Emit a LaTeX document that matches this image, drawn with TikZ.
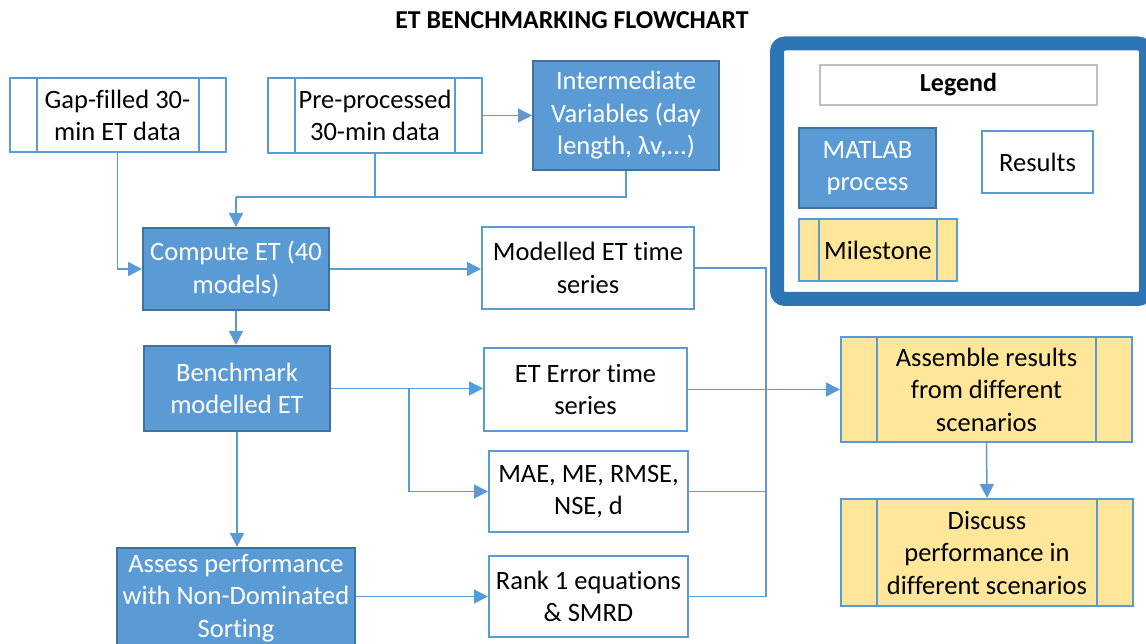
\documentclass[tikz,border=0pt]{standalone}
\usepackage{fontspec}
\setmainfont[Ligatures=NoCommon]{Carlito}
\usetikzlibrary{arrows.meta}
\definecolor{procblue}{HTML}{5B9BD5}
\definecolor{procedge}{HTML}{41719C}
\definecolor{framebl}{HTML}{2E75B6}
\definecolor{mileyel}{HTML}{FFE699}
\definecolor{legray}{HTML}{BFBFBF}
\tikzset{
  txt/.style={font=\fontsize{26.5}{32.5}\selectfont, align=center, inner sep=0pt},
  proc/.style={txt, draw=procedge, fill=procblue, text=white, line width=2pt},
  result/.style={txt, draw=procblue, fill=white, text=black, line width=2pt},
  sidebars/.style={path picture={
      \draw[procblue, line width=2pt]
        ([xshift=#1]path picture bounding box.north west) --
        ([xshift=#1]path picture bounding box.south west);
      \draw[procblue, line width=2pt]
        ([xshift=-#1]path picture bounding box.north east) --
        ([xshift=-#1]path picture bounding box.south east);}},
  datain/.style={result, sidebars=#1},
  milestone/.style={result, fill=mileyel, sidebars=#1},
  link/.style={draw=procblue, line width=1.5pt},
  arr/.style={link, -{Triangle[length=14pt, width=14pt]}},
}
\begin{document}
\begin{tikzpicture}[x=1pt, y=-1pt]
\useasboundingbox (0,0) rectangle (1146,644);

% heading
\node[font=\fontsize{25.8}{30}\selectfont\bfseries, anchor=base] (title) at (572,29) {ET BENCHMARKING FLOWCHART};

% legend panel
\draw[framebl, line width=14pt, rounded corners=8pt] (777,43.5) rectangle (1146,299);
\node[txt, draw=legray, line width=2pt, minimum width=277, minimum height=40,
      font=\fontsize{26}{30}\selectfont\bfseries] (legtitle) at (958.5,85) {Legend};
\node[proc, minimum width=137, minimum height=80] (legproc) at (867.5,168) {MATLAB\\process};
\node[result, minimum width=111, minimum height=62] (legres) at (1037.5,162) {Results};
\node[milestone=20, minimum width=158, minimum height=62] (legmile) at (878,250) {Milestone};

% inputs
\node[datain=27, minimum width=216, minimum height=74] (gap) at (117.5,115.5) {Gap-filled 30-\\min ET data};
\node[datain=27, minimum width=214, minimum height=75] (pre) at (375,115.5) {Pre-processed\\30-min data};
\node[proc, minimum width=186, minimum height=109] (inter) at (626,115.5) {Intermediate\\Variables (day\\length, λv,...)};

% processing chain
\node[proc, minimum width=186, minimum height=82] (compute) at (236,269) {Compute ET (40\\models)};
\node[proc, minimum width=186, minimum height=85] (bench) at (237,388.5) {Benchmark\\modelled ET};
\node[proc, minimum width=238, minimum height=100] (assess) at (236,598) {Assess performance\\with Non-Dominated\\Sorting};

% results
\node[result, minimum width=212, minimum height=82] (modelled) at (588,268) {Modelled ET time\\series};
\node[result, minimum width=203, minimum height=83] (error) at (585.5,389.5) {ET Error time\\series};
\node[result, minimum width=199, minimum height=81] (mae) at (588.5,491.5) {MAE, ME, RMSE,\\NSE, d};
\node[result, minimum width=199, minimum height=81] (rank) at (588.5,596.5) {Rank 1 equations\\\& SMRD};

% milestones
\node[milestone=36, minimum width=291, minimum height=105] (assemble) at (986.5,389.5) {Assemble results\\from different\\scenarios};
\node[milestone=36, minimum width=292, minimum height=107] (discuss) at (987,552.5) {Discuss\\performance in\\different scenarios};

% junction points
\coordinate (j1) at (236,197);
\coordinate (b1) at (409,389);
\coordinate (m1) at (766,390);

% connectors
\draw[arr] (gap.south) |- (compute.west);
\draw[link] (pre.south) |- (j1);
\draw[link] (inter.south) |- (j1);
\draw[arr] (j1) -- (compute.north);
\draw[arr] (pre.east) -- (inter.west);
\draw[arr] (compute.east) -- (modelled.west |- compute.east);
\draw[arr] (compute.south) -- (bench.north -| compute.south);
\draw[arr] (bench.east) -- (error.west |- bench.east);
\draw[arr] (b1) |- (mae.west);
\draw[arr] (bench.south) -- (bench.south |- assess.north);
\draw[arr] (assess.east |- rank.west) -- (rank.west);
\draw[link] (modelled.east) -| (m1);
\draw[link] (mae.east) -| (m1);
\draw[link] (rank.east) -| (m1);
\draw[arr] (error.east) -- (assemble.west |- error.east);
\draw[arr] (assemble.south) -- (discuss.north);
\end{tikzpicture}
\end{document}
